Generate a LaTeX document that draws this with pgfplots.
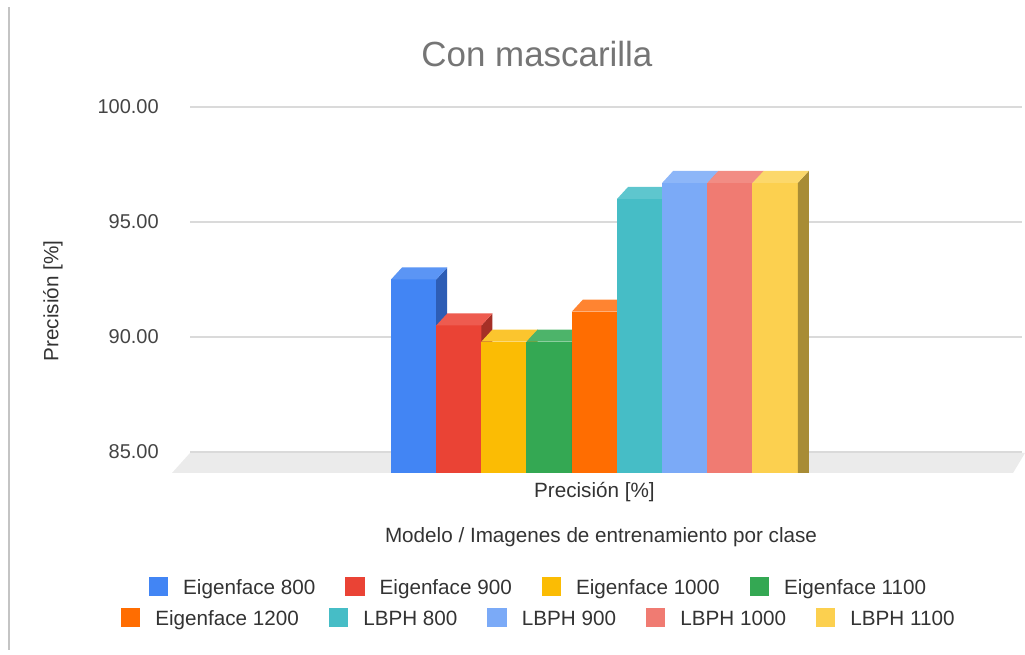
\documentclass[border=0pt]{standalone}
\usepackage{fontspec}
\setmainfont{Liberation Sans}
\usepackage{pgfplots}
\pgfplotsset{compat=1.18}
\definecolor{cA}{HTML}{4285F4}\definecolor{tA}{HTML}{5B95F5}\definecolor{sA}{HTML}{2D5DB5}
\definecolor{cB}{HTML}{EA4335}\definecolor{tB}{HTML}{EE5B4F}\definecolor{sB}{HTML}{A52F26}
\definecolor{cC}{HTML}{FBBC04}\definecolor{tC}{HTML}{FBC52E}\definecolor{sC}{HTML}{B08503}
\definecolor{cD}{HTML}{34A853}\definecolor{tD}{HTML}{4DB46A}\definecolor{sD}{HTML}{24763A}
\definecolor{cE}{HTML}{FF6D01}\definecolor{tE}{HTML}{FF8431}\definecolor{sE}{HTML}{B34D01}
\definecolor{cF}{HTML}{46BDC6}\definecolor{tF}{HTML}{5EC6CE}\definecolor{sF}{HTML}{31858B}
\definecolor{cG}{HTML}{7BAAF7}\definecolor{tG}{HTML}{8DB6F8}\definecolor{sG}{HTML}{5677AD}
\definecolor{cH}{HTML}{F07B72}\definecolor{tH}{HTML}{F28C84}\definecolor{sH}{HTML}{A85650}
\definecolor{cI}{HTML}{FCD04F}\definecolor{tI}{HTML}{FCD86B}\definecolor{sI}{HTML}{A88C35}
\definecolor{gridc}{HTML}{DADADA}
\definecolor{floorc}{HTML}{EBEBEB}
\definecolor{leftline}{HTML}{C4C4C4}
\definecolor{titlec}{HTML}{757575}
\definecolor{textc}{HTML}{333333}
\definecolor{tickc}{HTML}{444444}
\pgfdeclareplotmark{topface}{%
  \pgfpathmoveto{\pgfqpoint{-16.95pt}{0pt}}%
  \pgfpathlineto{\pgfqpoint{16.95pt}{0pt}}%
  \pgfpathlineto{\pgfqpoint{25.2pt}{9pt}}%
  \pgfpathlineto{\pgfqpoint{-8.7pt}{9pt}}%
  \pgfpathclose\pgfusepathqfill}
\pgfdeclareplotmark{sideface}{%
  \pgfpathmoveto{\pgfqpoint{16.95pt}{0pt}}%
  \pgfpathlineto{\pgfqpoint{25.2pt}{9pt}}%
  \pgfpathlineto{\pgfqpoint{25.2pt}{-291pt}}%
  \pgfpathlineto{\pgfqpoint{16.95pt}{-300pt}}%
  \pgfpathclose\pgfusepathqfill}
\pgfplotsset{
  sqleg/.style={legend image code/.code={\fill[##1,draw=none] (0pt,-6.2pt) rectangle (14.5pt,8.3pt);}},
  front/.style={ybar, bar width=45.6, bar shift=0pt, fill=#1, draw=none, sqleg},
  top/.style={only marks, mark=topface, mark options={fill=#1, draw=none}, forget plot},
  side/.style={only marks, mark=sideface, mark options={fill=#1, draw=none}, forget plot},
  legstyle/.style={draw=none, fill=none, anchor=center, text=textc,
    font=\fontsize{15.5}{18}\selectfont, nodes={inner sep=0pt},
    /tikz/every odd column/.style={column sep=11.25pt},
    /tikz/every even column/.style={column sep=22.5pt}},
}
\begin{document}
\begin{tikzpicture}
\path[use as bounding box] (0,0) rectangle (768.75pt,491.25pt);
\draw[leftline, line width=1.3pt] (6.75pt,3.75pt) -- (6.75pt,486pt);
\fill[floorc] (142.5pt,151.5pt) -- (768.75pt,151.5pt) -- (759.75pt,136.5pt) -- (129pt,136.5pt) -- cycle;
\begin{axis}[
  at={(142.5pt,136.5pt)}, anchor=south west,
  scale only axis, width=624pt, height=274.5pt,
  xmin=190, xmax=1022, ymin=84.087, ymax=100,
  axis line style={draw=none}, major tick length=0pt,
  clip marker paths=true,
  ytick={85,90,95,100},
  ymajorgrids, grid style={gridc, line width=0.8pt},
  /pgf/number format/.cd, fixed, fixed zerofill, precision=2, assume math mode=true, /pgfplots/.cd,
  yticklabel style={anchor=east, inner sep=0pt, xshift=-23.25pt, text=tickc, font=\fontsize{15}{18}\selectfont},
  xtick={594.4}, xticklabels={Precisión [\%]},
  xticklabel style={anchor=base, inner sep=0pt, yshift=-18.75pt, text=textc, font=\fontsize{15.5}{18}\selectfont},
  xlabel={Modelo / Imagenes de entrenamiento por clase},
  xlabel style={at={(axis description cs:0.494,0)}, anchor=base, inner sep=0pt, yshift=-52.5pt, text=textc, font=\fontsize{15.5}{18}\selectfont},
  ylabel={Precisión [\%]},
  ylabel style={at={(axis description cs:-0.1647,0.470)}, anchor=center, rotate=0, inner sep=0pt, text=textc, font=\fontsize{15.5}{18}\selectfont},
  title={Con mascarilla},
  title style={at={(axis description cs:0.417,1.090)}, anchor=base, inner sep=0pt, text=titlec, font=\fontsize{26.2}{30}\selectfont},
  legend columns=4,
  legend style={legstyle, at={(axis description cs:0.4177,-0.311)}},
]
\addplot[front=cA] coordinates {(413.6,92.5)}; \addlegendentry{Eigenface 800}
\addplot[side=sA] coordinates {(413.6,92.5)};
\addplot[top=tA] coordinates {(413.6,92.5)};
\addplot[front=cB] coordinates {(458.8,90.5)}; \addlegendentry{Eigenface 900}
\addplot[side=sB] coordinates {(458.8,90.5)};
\addplot[top=tB] coordinates {(458.8,90.5)};
\addplot[front=cC] coordinates {(504.0,89.8)}; \addlegendentry{Eigenface 1000}
\addplot[side=sC] coordinates {(504.0,89.8)};
\addplot[top=tC] coordinates {(504.0,89.8)};
\addplot[front=cD] coordinates {(549.2,89.8)}; \addlegendentry{Eigenface 1100}
\addplot[side=sD] coordinates {(549.2,89.8)};
\addplot[top=tD] coordinates {(549.2,89.8)};
\addplot[front=cE, forget plot] coordinates {(594.4,91.1)};
\addplot[side=sE] coordinates {(594.4,91.1)};
\addplot[top=tE] coordinates {(594.4,91.1)};
\addplot[front=cF, forget plot] coordinates {(639.6,96.0)};
\addplot[side=sF] coordinates {(639.6,96.0)};
\addplot[top=tF] coordinates {(639.6,96.0)};
\addplot[front=cG, forget plot] coordinates {(684.8,96.7)};
\addplot[side=sG] coordinates {(684.8,96.7)};
\addplot[top=tG] coordinates {(684.8,96.7)};
\addplot[front=cH, forget plot] coordinates {(730.0,96.7)};
\addplot[side=sH] coordinates {(730.0,96.7)};
\addplot[top=tH] coordinates {(730.0,96.7)};
\addplot[front=cI, forget plot] coordinates {(775.2,96.7)};
\addplot[side=sI] coordinates {(775.2,96.7)};
\addplot[top=tI] coordinates {(775.2,96.7)};
\end{axis}
\begin{axis}[
  at={(142.5pt,136.5pt)}, anchor=south west,
  scale only axis, width=624pt, height=274.5pt,
  xmin=190, xmax=1022, ymin=84.087, ymax=100, hide axis,
  legend columns=5,
  legend style={legstyle, at={(axis description cs:0.418,-0.396)}},
]
\addlegendimage{sqleg, fill=cE}\addlegendentry{Eigenface 1200}
\addlegendimage{sqleg, fill=cF}\addlegendentry{LBPH 800}
\addlegendimage{sqleg, fill=cG}\addlegendentry{LBPH 900}
\addlegendimage{sqleg, fill=cH}\addlegendentry{LBPH 1000}
\addlegendimage{sqleg, fill=cI}\addlegendentry{LBPH 1100}
\end{axis}
\end{tikzpicture}
\end{document}
